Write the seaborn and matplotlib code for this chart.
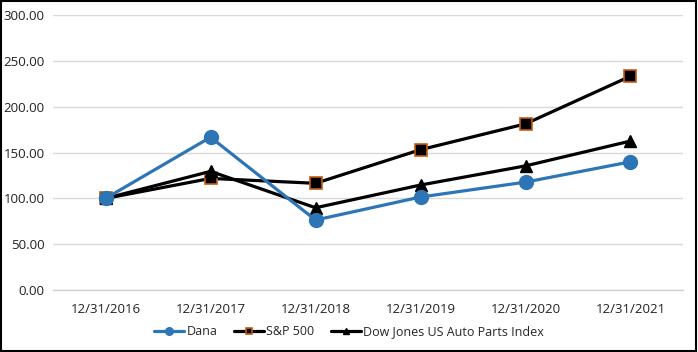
import matplotlib
matplotlib.use("Agg")
import matplotlib.pyplot as plt
import seaborn as sns
import pandas as pd
from matplotlib.patches import Rectangle
from matplotlib.lines import Line2D

categories = ["12/31/2016", "12/31/2017", "12/31/2018", "12/31/2019", "12/31/2020", "12/31/2021"]
dana = [100.00, 166.78, 76.41, 101.50, 117.79, 139.94]
sp500 = [100.00, 121.83, 116.49, 153.17, 181.35, 233.41]
dj_auto = [100.00, 129.50, 89.80, 114.60, 135.50, 162.60]
series_names = ["Dana", "S&P 500", "Dow Jones US Auto Parts Index"]

sns.set_theme(style="white")
plt.rcParams['font.family'] = ['Open Sans', 'DejaVu Sans']

rows = []
for name, vals in zip(series_names, [dana, sp500, dj_auto]):
    for i, v in enumerate(vals):
        rows.append({"idx": i, "value": v, "series": name})
df = pd.DataFrame(rows)

fig = plt.figure(figsize=(6.98, 3.52), dpi=100)
ax = fig.add_axes([0.076, 0.176, 0.9025, 0.781])

styles = {
    "Dana": dict(color="#2E75B6", marker="o", markersize=10, mfc="#2E75B6", mec="#2E75B6", lw=2.3),
    "S&P 500": dict(color="black", marker="s", markersize=8.5, mfc="black", mec="#C55A11", mew=1.2, lw=2.3),
    "Dow Jones US Auto Parts Index": dict(color="black", marker="^", markersize=9, mfc="black", mec="black", lw=2.3),
}
for z, name in enumerate(["S&P 500", "Dow Jones US Auto Parts Index", "Dana"]):
    st = styles[name]
    sub = df[df["series"] == name]
    sns.lineplot(data=sub, x="idx", y="value", ax=ax, color=st["color"], linewidth=st["lw"],
                 sort=False, legend=False, zorder=3 + z,
                 marker=st["marker"], markersize=st["markersize"],
                 markerfacecolor=st["mfc"], markeredgecolor=st["mec"],
                 markeredgewidth=st.get("mew", 1.0))

ax.set_xlim(-0.5, len(categories) - 0.5)
ax.set_ylim(0, 300)
ax.set_yticks([0, 50, 100, 150, 200, 250, 300])
ax.set_yticklabels([f"{v:.2f}" for v in [0, 50, 100, 150, 200, 250, 300]], fontsize=9.5, color="#222222")
ax.set_xticks(range(len(categories)))
ax.set_xticklabels(categories, fontsize=9.5, color="#222222")
ax.set_xticks([i - 0.5 for i in range(len(categories) + 1)], minor=True)
ax.tick_params(axis="x", which="major", length=0, pad=9)
ax.tick_params(axis="x", which="minor", length=5, color="#d0d0d0", width=1)
ax.tick_params(axis="y", length=0, pad=6)
ax.set_xlabel("")
ax.set_ylabel("")
ax.grid(axis="y", color="#d9d9d9", linewidth=1)
ax.set_axisbelow(True)
for s in ["top", "right", "left"]:
    ax.spines[s].set_visible(False)
ax.spines["bottom"].set_color("#d0d0d0")
ax.spines["bottom"].set_linewidth(1)

handles = []
for name in series_names:
    st = styles[name]
    handles.append(Line2D([], [], color=st["color"], lw=st["lw"], marker=st["marker"],
                          markersize=st["markersize"] * 0.55, markerfacecolor=st["mfc"],
                          markeredgecolor=st["mec"], markeredgewidth=st.get("mew", 1.0)))
fig.legend(handles, series_names, loc="center", bbox_to_anchor=(0.5, 0.057), ncol=3,
           frameon=False, fontsize=9, handlelength=2.4, handletextpad=0.2, columnspacing=1.3)

fig.add_artist(Rectangle((0.002, 0.003), 0.995, 0.993, transform=fig.transFigure,
                         fill=False, edgecolor="black", linewidth=1.5))

fig.savefig("out.png", dpi=100)
